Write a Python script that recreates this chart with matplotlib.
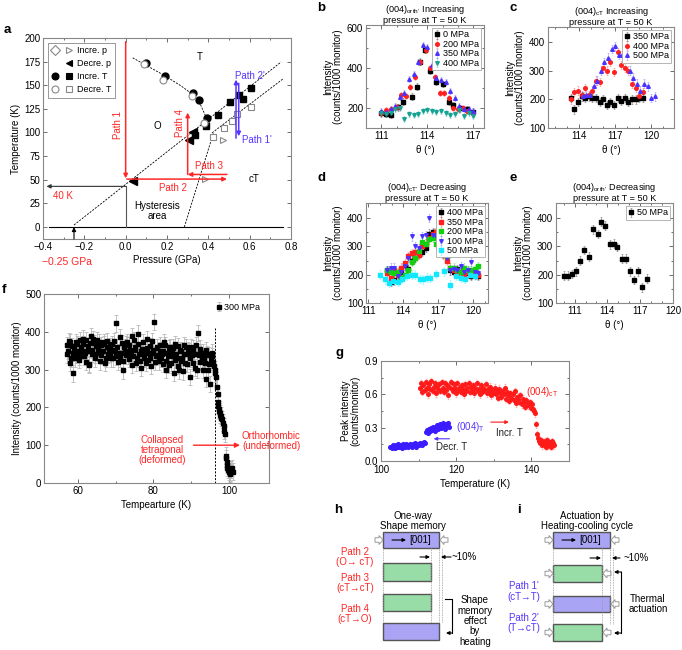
import numpy as np
import matplotlib
matplotlib.use("Agg")
import matplotlib.pyplot as plt
from matplotlib.lines import Line2D
from matplotlib.legend_handler import HandlerTuple
from matplotlib.patches import Rectangle, FancyArrow
from matplotlib.colors import to_rgba

plt.rcParams['font.family'] = ['Liberation Sans', 'DejaVu Sans']
plt.rcParams['mathtext.fontset'] = 'custom'
plt.rcParams['mathtext.rm'] = 'Liberation Sans'
plt.rcParams['mathtext.it'] = 'Liberation Sans:italic'
plt.rcParams['axes.linewidth'] = 0.8

RED = '#ff2626'
BLUE = '#5535ff'

# ---------------- panel a: phase diagram (p in GPa, T in K) ----------------
incp_p = [0.384, 0.473]
incp_T = [50.5, 92.0]
decp_p = [0.034, 0.305, 0.324]
decp_T = [49.0, 92.0, 100.5]
incT_circ_p = [0.097, 0.189, 0.324, 0.356, 0.392]
incT_circ_T = [173.5, 160.0, 142.0, 134.0, 115.0]
incT_sq_p = [0.335, 0.387, 0.448, 0.505, 0.550, 0.566, 0.605]
incT_sq_T = [97.5, 107.0, 118.0, 132.0, 140.0, 135.0, 147.5]
decT_circ_p = [0.090, 0.182, 0.319, 0.379]
decT_circ_T = [172.0, 156.0, 139.0, 110.0]
decT_sq_p = [0.424, 0.476, 0.516, 0.537, 0.605]
decT_sq_T = [95.0, 105.0, 112.0, 120.0, 127.0]
# phase boundaries
ot_p = [0.034, 0.10, 0.19, 0.27, 0.32, 0.355, 0.375, 0.39, 0.408]
ot_T = [179.0, 171.0, 160.0, 149.0, 141.0, 133.0, 123.0, 116.0, 109.5]
ocT_p = [-0.25, 0.752]
ocT_T = [2.1, 174.6]
tcT_p = [0.418, 0.763]
tcT_T = [99.6, 157.0]
hyst_p = [0.284, 0.424]
hyst_T = [0.0, 99.0]

# ---------------- panels b-e: theta scans at 50 K ----------------
b_th0 = [111.0, 111.3, 111.65, 112.1, 112.4, 113.0, 113.3, 113.5, 113.85, 114.2, 114.6, 115.0, 115.4, 115.7, 116.15, 116.6, 117.0]
b_I0 = [173, 170, 165, 203, 232, 257, 307, 432, 490, 387, 332, 320, 232, 215, 198, 193, 182]
b_th200 = [111.0, 111.3, 111.6, 112.0, 112.3, 112.6, 112.9, 113.2, 113.5, 113.9, 114.2, 114.5, 114.8, 115.1, 115.4, 115.7, 116.0, 116.3, 116.6, 117.0]
b_I200 = [175, 190, 195, 205, 265, 260, 305, 355, 430, 490, 400, 355, 275, 275, 250, 200, 195, 200, 185, 175]
b_th350 = [111.0, 111.3, 111.6, 111.9, 112.2, 112.5, 112.8, 113.1, 113.4, 113.7, 114.0, 114.3, 114.6, 114.9, 115.2, 115.5, 115.8, 116.1, 116.4, 116.7, 117.0]
b_I350 = [185, 180, 195, 210, 255, 275, 345, 370, 430, 515, 505, 415, 350, 340, 330, 285, 250, 210, 195, 195, 185]
b_th400 = [111.0, 111.3, 111.6, 111.9, 112.2, 112.5, 112.8, 113.1, 113.4, 113.7, 114.0, 114.3, 114.6, 114.9, 115.2, 115.5, 115.8, 116.1, 116.4, 116.7, 117.0]
b_I400 = [175, 170, 175, 195, 200, 145, 170, 165, 170, 185, 190, 185, 180, 185, 175, 165, 170, 190, 160, 175, 160]
b_err = 17

c_th350 = [113.3, 113.6, 113.9, 114.2, 114.5, 114.8, 115.1, 115.4, 115.7, 116.0, 116.3, 116.6, 116.9, 117.2, 117.5, 117.8, 118.1, 118.4, 118.7, 119.0, 119.3]
c_I350 = [205, 165, 190, 210, 205, 210, 205, 205, 190, 200, 180, 190, 180, 205, 195, 205, 190, 200, 200, 205, 205]
c_th400 = [113.3, 113.6, 113.9, 114.2, 114.5, 114.8, 115.1, 115.4, 115.7, 116.0, 116.3, 116.6, 116.9, 117.2, 117.5, 117.8, 118.1, 118.4, 118.7, 119.0, 119.3]
c_I400 = [200, 225, 230, 215, 240, 215, 230, 265, 260, 310, 300, 330, 295, 365, 320, 310, 300, 255, 240, 210, 225]
c_th500 = [114.3, 114.6, 114.9, 115.2, 115.5, 115.8, 116.1, 116.4, 116.7, 117.0, 117.3, 117.6, 117.9, 118.2, 118.5, 118.8, 119.1, 119.4, 119.7, 120.0, 120.3]
c_I500 = [210, 215, 215, 245, 265, 300, 330, 345, 375, 385, 355, 355, 345, 300, 275, 255, 230, 255, 245, 205, 210]
c_err = 15

d_th = [112.6, 112.9, 113.2, 113.5, 113.8, 114.1, 114.4, 114.7, 115.0, 115.3, 115.6, 115.9, 116.2, 116.5, 116.8, 117.1, 117.4, 117.7, 118.0, 118.3, 118.6, 118.9, 119.2, 119.5, 119.8, 120.1, 120.4]
d_I400 = [215, 175, 180, 205, 210, 235, 220, 250, 260, 275, 280, 295, 345, 350, 350, 330, 280, 265, 215, 210, 220, 210, 210, 205, 195, 200, 195]
d_I350 = [205, 190, 215, 200, 225, 240, 265, 275, 280, 270, 300, 310, 330, 345, 350, 345, 270, 250, 225, 215, 205, 210, 200, 210, 200, 205, 200]
d_I200 = [215, 210, 205, 210, 190, 200, 215, 245, 260, 285, 315, 310, 325, 330, 310, 320, 275, 265, 225, 225, 215, 210, 225, 215, 215, 220, 230]
d_I100 = [215, 225, 225, 195, 210, 230, 260, 335, 300, 295, 335, 340, 400, 340, 335, 330, 275, 260, 215, 220, 215, 230, 210, 215, 245, 210, 205]
d_th50 = [112.0, 112.4, 112.8, 113.1, 113.5, 113.9, 114.3, 114.7, 115.0, 115.4, 115.7, 116.0, 116.3, 116.8, 117.5, 118.0, 118.5, 118.9, 119.3, 119.7, 120.1]
d_I50 = [200, 183, 170, 178, 175, 185, 195, 200, 200, 185, 183, 190, 188, 202, 212, 165, 195, 190, 185, 200, 195]
d_err = 15

e_th = [110.0, 110.4, 110.8, 111.1, 111.5, 111.9, 112.3, 112.7, 113.1, 113.4, 113.8, 114.2, 114.6, 114.9, 115.3, 115.7, 116.1, 116.4, 116.8, 117.2, 117.6]
e_I = [197, 197, 202, 212, 250, 287, 264, 360, 343, 387, 373, 307, 310, 297, 257, 257, 212, 182, 212, 155, 186]
e_err = 15

# ---------------- panel f: intensity vs T at 300 MPa (two interleaved scans) ----------------
f_T0, f_T0b, f_dT = 57.0, 57.2, 0.4
f_I_low = [365, 350, 372, 330, 290, 355, 340, 368, 335, 378,
           350, 382, 345, 320, 362, 315, 388, 352, 370, 340,
           378, 358, 322, 365, 348, 372, 330, 360, 355, 342,
           368, 330, 350, 422, 320, 385, 345, 298, 360, 338,
           372, 328, 352, 388, 335, 360, 318, 395, 340, 305,
           355, 330, 345, 380, 325, 362, 310, 345, 426, 335,
           358, 322, 350, 340, 315, 365, 300, 335, 355, 318,
           345, 292, 368, 330, 310, 352, 322, 295, 340, 360,
           315, 348, 280, 338, 355, 305, 340, 397, 320, 345,
           300, 330, 275, 340, 315, 262, 335, 320]
f_I_low2 = [340, 375, 318, 362, 345, 330, 372, 350, 325, 360,
            368, 335, 378, 350, 312, 370, 342, 380, 330, 362,
            345, 372, 338, 350, 368, 318, 375, 340, 362, 330,
            352, 375, 335, 360, 345, 330, 370, 322, 350, 368,
            338, 365, 345, 312, 378, 352, 330, 368, 322, 350,
            372, 340, 318, 358, 345, 330, 375, 352, 320, 360,
            338, 365, 330, 348, 372, 322, 345, 312, 360, 335,
            358, 325, 340, 362, 298, 350, 332, 365, 318, 342,
            352, 330, 360, 318, 342, 365, 300, 338, 355, 325,
            345, 318, 352, 300, 338, 325, 345, 310]
f_T_drop = [96.2, 96.4, 96.6, 96.8, 97.0, 97.1, 97.2, 97.3, 97.4, 97.5, 97.6, 97.8, 98.0, 98.2, 98.4,
            98.6, 98.8, 99.0, 99.2, 99.3, 99.4, 99.5, 99.6, 99.8, 100.0, 100.2, 100.4, 100.6, 100.8, 101.0]
f_I_drop = [300, 290, 280, 255, 235, 215, 205, 195, 190, 185, 180, 178, 172, 168, 160,
            150, 138, 130, 72, 65, 55, 48, 40, 35, 30, 25, 28, 35, 40, 30]
f_err = 22
f_Tc = 96.3

# ---------------- panel g: peak intensity vs T ----------------
g_cT_T0, g_cT_dT = 110.4, 0.3
g_cT = [0.66, 0.70, 0.62, 0.68, 0.64, 0.71, 0.66, 0.60, 0.69, 0.65,
        0.72, 0.63, 0.67, 0.70, 0.61, 0.68, 0.65, 0.69, 0.63, 0.71,
        0.66, 0.62, 0.70, 0.64, 0.68, 0.59, 0.67, 0.71, 0.65, 0.63,
        0.69, 0.66, 0.61, 0.70, 0.64, 0.67, 0.62, 0.68, 0.65, 0.60,
        0.69, 0.63, 0.66, 0.70, 0.62, 0.67, 0.64, 0.68, 0.61, 0.66,
        0.70, 0.63, 0.65, 0.60, 0.68, 0.62, 0.66, 0.64, 0.69, 0.61,
        0.65, 0.62, 0.67, 0.59, 0.64, 0.61, 0.66, 0.60, 0.63, 0.57,
        0.65, 0.61, 0.58, 0.63, 0.60, 0.66, 0.56, 0.62, 0.59, 0.54,
        0.61, 0.57, 0.60, 0.55, 0.63, 0.52, 0.58, 0.56, 0.53, 0.59,
        0.51, 0.56, 0.54, 0.49, 0.55, 0.52, 0.50, 0.53, 0.48, 0.51,
        0.47, 0.45]
g_tail_T0, g_tail_dT = 141.0, 0.25
g_tail = [0.43, 0.33, 0.24, 0.21, 0.18, 0.16, 0.19, 0.14, 0.17, 0.15, 0.18,
          0.13, 0.16, 0.19, 0.14, 0.17, 0.15, 0.13, 0.18, 0.16, 0.14]
g_T_lo_T0, g_T_lo_dT = 102.5, 0.3
g_T_lo = [0.13, 0.12, 0.14, 0.13, 0.12, 0.14, 0.13, 0.15, 0.13, 0.14, 0.12, 0.15, 0.14, 0.13, 0.15, 0.14,
          0.13, 0.15, 0.14, 0.13, 0.15, 0.14, 0.16, 0.13, 0.15, 0.14, 0.16, 0.15, 0.14, 0.16, 0.17, 0.16]
g_T_hi_T0, g_T_hi_dT = 112.0, 0.25
g_T_hi = [0.26, 0.28, 0.25, 0.29, 0.27, 0.30, 0.28, 0.31, 0.29, 0.27, 0.31, 0.30, 0.32,
          0.29, 0.31, 0.33, 0.30, 0.32, 0.34, 0.31, 0.29, 0.33, 0.32, 0.34, 0.31]
g_err = 0.03

# ---------------- panels h, i: schematic boxes (left, top, right, bottom in px) ----------------
h_boxes = [(383, 532, 439, 548, 'p'), (383, 563, 431, 581, 'g'),
           (383, 594, 431, 611, 'g'), (383, 623, 439, 640, 'p')]
i_boxes = [(553, 532, 610, 548, 'p'), (553, 565, 602, 582, 'g'),
           (553, 596, 610, 612, 'p'), (553, 624, 602, 641, 'g')]
h_labels = ['Path 2', '(O→ cT)', 'Path 3', '(cT→cT)', 'Path 4', '(cT→O)']
h_label_y = [552, 562, 578, 588, 609, 619]
i_labels = ["Path 1'", '(cT→T)', "Path 2'", '(T→cT)']
i_label_y = [586, 597, 618, 628]

W, H = 682, 650
fig = plt.figure(figsize=(W / 100, H / 100), dpi=100)


def box(l, t, r, b):
    return fig.add_axes([l / W, 1 - b / H, (r - l) / W, (b - t) / H])


def style(ax):
    ax.tick_params(which='both', direction='in', top=True, right=True, labelsize=7,
                   width=0.6, color='#555555', pad=2)
    ax.tick_params(which='major', length=3)
    ax.tick_params(which='minor', length=1.6)
    for s in ax.spines.values():
        s.set_color('#888888')


def scan(ax, x, y, err, marker, color, label=None):
    ax.errorbar(x, y, yerr=err, fmt=marker, ms=2.6, color=color, mec=color,
                ecolor=to_rgba(color, 0.3), elinewidth=0.7, capsize=1.0, capthick=0.6,
                label=label)


# ---------------- panel a ----------------
ax = box(43, 38, 291, 239)
style(ax)
ax.set_xlim(-0.4, 0.8)
ax.set_ylim(-12.7, 200)
ax.set_xticks([-0.4, -0.2, 0.0, 0.2, 0.4, 0.6, 0.8])
ax.set_xticks(np.arange(-0.4, 0.81, 0.1), minor=True)
ax.set_yticks(np.arange(0, 201, 25))
ax.set_xlabel('Pressure (GPa)', fontsize=7, labelpad=2)
ax.set_ylabel('Temperature (K)', fontsize=7, labelpad=2)
dash = dict(color='k', lw=0.6, dashes=(2.5, 1.5))
ax.plot(ot_p, ot_T, **dash)
ax.plot(ocT_p, ocT_T, **dash)
ax.plot(tcT_p, tcT_T, **dash)
ax.plot(hyst_p, hyst_T, **dash)
ax.plot([-0.37, 0.76], [0, 0], color='k', lw=0.8)
ax.plot([0, 0], [0, 43], color='#555555', lw=0.8)
arr = dict(arrowstyle='-|>', mutation_scale=6, shrinkA=0, shrinkB=0)
ax.annotate('', xy=(-0.383, 43), xytext=(0, 43), arrowprops=dict(color='#333333', lw=0.8, **arr))
ax.annotate('', xy=(-0.25, 0), xytext=(-0.25, -12.7), arrowprops=dict(color='k', lw=0.8, **arr))
ax.annotate('', xy=(0.0, 51.5), xytext=(0.0, 196), arrowprops=dict(color=RED, lw=1.1, **arr))
ax.annotate('', xy=(0.49, 50.7), xytext=(0.005, 50.7), arrowprops=dict(color=RED, lw=1.1, **arr))
ax.annotate('', xy=(0.30, 55.6), xytext=(0.49, 55.6), arrowprops=dict(color=RED, lw=1.1, **arr))
ax.annotate('', xy=(0.30, 121), xytext=(0.30, 55.6), arrowprops=dict(color=RED, lw=1.1, **arr))
ax.annotate('', xy=(0.534, 156), xytext=(0.534, 94), arrowprops=dict(color=BLUE, lw=1.1, **arr))
ax.annotate('', xy=(0.547, 96), xytext=(0.547, 152), arrowprops=dict(color=BLUE, lw=1.1, **arr))
ax.plot(incT_circ_p, incT_circ_T, 'o', ms=5, color='k')
ax.plot(incT_sq_p, incT_sq_T, 's', ms=5, color='k')
ax.plot(decT_circ_p, decT_circ_T, 'o', ms=5, mfc='white', mec='#888888', mew=0.8)
ax.plot(decT_sq_p, decT_sq_T, 's', ms=5, mfc='white', mec='#888888', mew=0.8)
ax.plot(incp_p, incp_T, '>', ms=5, mfc='white', mec='#888888', mew=0.8)
ax.plot(decp_p, decp_T, '<', ms=6, color='k')
ax.text(-0.035, 107.7, 'Path 1', color=RED, fontsize=7, rotation=90, ha='center', va='center')
ax.text(0.23, 41.5, 'Path 2', color=RED, fontsize=7, ha='center', va='center')
ax.text(0.405, 65, 'Path 3', color=RED, fontsize=7, ha='center', va='center')
ax.text(0.263, 110, 'Path 4', color=RED, fontsize=7, rotation=90, ha='center', va='center')
ax.text(0.60, 160, "Path 2'", color=BLUE, fontsize=7, ha='center', va='center')
ax.text(0.565, 92, "Path 1'", color=BLUE, fontsize=7, ha='left', va='center')
ax.text(-0.35, 33, '40 K', color=RED, fontsize=7, ha='left', va='center')
ax.text(0.356, 180, 'T', fontsize=7, ha='center', va='center')
ax.text(0.153, 107, 'O', fontsize=7, ha='center', va='center')
ax.text(0.623, 51, 'cT', fontsize=7, ha='center', va='center')
ax.text(0.153, 17, 'Hysteresis\narea', fontsize=7, ha='center', va='center', linespacing=1.0)
mk = dict(ls='', ms=5, mew=0.8)
h1 = (Line2D([], [], marker='D', mfc='white', mec='#888888', **mk),
      Line2D([], [], marker='>', mfc='white', mec='#888888', **mk))
h2 = (Line2D([], [], marker='D', mfc='none', mec='none', **mk),
      Line2D([], [], marker='<', color='k', **mk))
h3 = (Line2D([], [], marker='o', color='k', **mk),
      Line2D([], [], marker='s', color='k', **mk))
h4 = (Line2D([], [], marker='o', mfc='white', mec='#888888', **mk),
      Line2D([], [], marker='s', mfc='white', mec='#888888', **mk))
leg = ax.legend([h1, h2, h3, h4], ['Incre. p', 'Decre. p', 'Incre. T', 'Decre. T'],
                handler_map={tuple: HandlerTuple(ndivide=None, pad=0.6)}, loc='upper left',
                fontsize=6.5, handlelength=2.4, handletextpad=0.5, labelspacing=0.45,
                borderpad=0.4, fancybox=False, edgecolor='#888888', framealpha=1)
leg.get_frame().set_linewidth(0.6)


def theta_panel(ax, xlim, ylim, xt, yt, title):
    style(ax)
    ax.set_xlim(*xlim)
    ax.set_ylim(*ylim)
    ax.set_xticks(xt)
    ax.set_yticks(yt)
    ax.set_xlabel('θ (°)', fontsize=7, labelpad=3)
    ax.set_ylabel('Intensity\n(counts/1000 monitor)', fontsize=7, labelpad=3, linespacing=1.0)
    ax.set_title(title, fontsize=6.6, pad=1, linespacing=0.95)


def small_legend(ax):
    lg = ax.legend(loc='upper right', fontsize=6.5, handlelength=0.6, handletextpad=0.3,
                   labelspacing=0.05, borderpad=0.25, borderaxespad=0.35, fancybox=False,
                   edgecolor='#aaaaaa', framealpha=1)
    lg.get_frame().set_linewidth(0.6)


# ---------------- panel b ----------------
ax = box(366, 25, 484, 128)
theta_panel(ax, (110.0, 117.7), (100, 615), [111, 114, 117], [200, 400, 600],
            "(004)$_{\\mathrm{orth\u2019}}$ Increasing\npressure at T = 50 K")
ax.set_xticks(np.arange(110, 118, 1), minor=True)
ax.set_yticks([100, 300, 500], minor=True)
scan(ax, b_th0, b_I0, b_err, 's', 'k', '0 MPa')
scan(ax, b_th200, b_I200, b_err, 'o', '#ff2020', '200 MPa')
scan(ax, b_th350, b_I350, b_err, '^', '#4a33ff', '350 MPa')
scan(ax, b_th400, b_I400, b_err, 'v', '#16a394', '400 MPa')
small_legend(ax)

# ---------------- panel c ----------------
ax = box(548, 27, 674, 128)
theta_panel(ax, (111.4, 121.9), (100, 452), [114, 117, 120], [100, 200, 300, 400],
            "(004)$_{\\mathrm{cT}}$ Increasing\npressure at T = 50 K")
ax.set_xticks(np.arange(112, 122, 1), minor=True)
scan(ax, c_th350, c_I350, c_err, 's', 'k', '350 MPa')
scan(ax, c_th400, c_I400, c_err, 'o', '#ff2020', '400 MPa')
scan(ax, c_th500, c_I500, c_err, '^', '#4a33ff', '500 MPa')
small_legend(ax)

# ---------------- panel d ----------------
ax = box(366, 203, 488, 303)
theta_panel(ax, (110.8, 121.25), (100, 453), [111, 114, 117, 120], [100, 200, 300, 400],
            "(004)$_{\\mathrm{cT\u2019}}$ Decreasing\npressure at T = 50 K")
ax.set_xticks(np.arange(111, 122, 1), minor=True)
ax.set_yticks([150, 250, 350], minor=True)
scan(ax, d_th, d_I400, d_err, 's', 'k', '400 MPa')
scan(ax, d_th, d_I350, d_err, 's', '#ff2020', '350 MPa')
scan(ax, d_th, d_I200, d_err, 's', '#10d010', '200 MPa')
scan(ax, d_th, d_I100, d_err, 'v', '#4a33ff', '100 MPa')
scan(ax, d_th50, d_I50, d_err, 's', '#10e8ff', '50 MPa')
small_legend(ax)

# ---------------- panel e ----------------
ax = box(556, 203, 673, 303)
theta_panel(ax, (109.3, 120.0), (100, 453), [111, 114, 117, 120], [100, 200, 300, 400],
            "(004)$_{\\mathrm{orth\u2019}}$ Decreasing\npressure at T = 50 K")
ax.set_xticks(np.arange(110, 121, 1), minor=True)
ax.set_yticks([150, 250, 350], minor=True)
scan(ax, e_th, e_I, e_err, 's', 'k', '50 MPa')
small_legend(ax)

# ---------------- panel f ----------------
ax = box(44, 294, 269, 483)
style(ax)
ax.set_xlim(51, 110.6)
ax.set_ylim(0, 500)
ax.set_xticks([60, 80, 100])
ax.set_xticks([70, 90], minor=True)
ax.set_yticks(np.arange(0, 501, 100))
ax.set_xlabel('Tempearture (K)', fontsize=7, labelpad=3)
ax.set_ylabel('Intensity (counts/1000 monitor)', fontsize=7, labelpad=2)
f_T = np.concatenate([f_T0 + f_dT * np.arange(len(f_I_low)),
                      f_T0b + f_dT * np.arange(len(f_I_low2)), f_T_drop])
f_I = np.concatenate([f_I_low, f_I_low2, f_I_drop])
ax.errorbar(f_T, f_I, yerr=f_err, fmt='s', ms=3.4, color='k', ecolor='#b8b8b8',
            elinewidth=0.6, capsize=1.2, capthick=0.6, label='300 MPa')
ax.plot([f_Tc, f_Tc], [0, 410], color='k', lw=0.7, dashes=(2, 1.5))
ax.annotate('', xy=(102.9, 100), xytext=(90.6, 100),
            arrowprops=dict(arrowstyle='-|>', color=RED, lw=1.0, mutation_scale=7, shrinkA=0, shrinkB=0))
ax.text(82.4, 87, 'Collapsed\ntetragonal\n(deformed)', color=RED, fontsize=7, ha='center',
        va='center', linespacing=1.0)
ax.text(111.2, 111, 'Orthorhombic\n(undeformed)', color=RED, fontsize=7, ha='center',
        va='center', linespacing=1.0)
lg = ax.legend(loc='upper right', fontsize=6.5, frameon=False, handlelength=0.6,
               handletextpad=0.3, borderaxespad=0.6)

# ---------------- panel g ----------------
ax = box(381, 361, 569, 461)
style(ax)
ax.set_xlim(100, 150)
ax.set_ylim(0, 0.9)
ax.set_xticks([100, 120, 140])
ax.set_xticks([110, 130, 150], minor=True)
ax.set_yticks([0.0, 0.3, 0.6, 0.9])
ax.set_yticks([0.15, 0.45, 0.75], minor=True)
ax.tick_params(axis='x', pad=3)
ax.yaxis.set_major_formatter(matplotlib.ticker.FormatStrFormatter('%.1f'))
ax.set_xlabel('Temperature (K)', fontsize=7, labelpad=3)
ax.set_ylabel('Peak intensity\n(counts/monitor)', fontsize=7, labelpad=3, linespacing=1.0)
g_T_cT = np.concatenate([g_cT_T0 + g_cT_dT * np.arange(len(g_cT)),
                         g_tail_T0 + g_tail_dT * np.arange(len(g_tail))])
g_I_cT = np.concatenate([g_cT, g_tail])
g_T_T = np.concatenate([g_T_lo_T0 + g_T_lo_dT * np.arange(len(g_T_lo)),
                        g_T_hi_T0 + g_T_hi_dT * np.arange(len(g_T_hi))])
g_I_T = np.concatenate([g_T_lo, g_T_hi])
ax.errorbar(g_T_cT, g_I_cT, yerr=g_err, fmt='o', ms=2.6, color='#ff1a1a',
            ecolor=to_rgba('#ff1a1a', 0.25), elinewidth=0.7, capsize=0.8)
ax.errorbar(g_T_T, g_I_T, yerr=g_err * 0.6, fmt='o', ms=2.6, color='#3a1cff',
            ecolor=to_rgba('#3a1cff', 0.25), elinewidth=0.7, capsize=0.8)
ax.text(138.6, 0.625, '(004)$_{\\mathrm{cT}}$', color='#ff1a1a', fontsize=7, ha='left', va='center')
ax.text(120.0, 0.31, '(004)$_{\\mathrm{T}}$', color=BLUE, fontsize=7, ha='left', va='center')
ax.annotate('', xy=(134.0, 0.35), xytext=(129.2, 0.35),
            arrowprops=dict(arrowstyle='-|>', color='#ff1a1a', lw=0.8, mutation_scale=5, shrinkA=0, shrinkB=0))
ax.text(130.5, 0.255, 'Incr. T', fontsize=7, ha='left', va='center', color='#222222')
ax.annotate('', xy=(114.0, 0.2), xytext=(118.2, 0.2),
            arrowprops=dict(arrowstyle='-|>', color=BLUE, lw=0.8, mutation_scale=5, shrinkA=0, shrinkB=0))
ax.text(114.6, 0.125, 'Decr. T', fontsize=7, ha='left', va='center', color='#222222')

# ---------------- overlay: panel letters, schematics h and i ----------------
sk = fig.add_axes([0, 0, 1, 1])
sk.set_xlim(0, W)
sk.set_ylim(H, 0)
sk.axis('off')
sk.patch.set_alpha(0)
for lab, x, y in [('a', 4, 30), ('b', 317, 8), ('c', 510, 8), ('d', 317, 178), ('e', 510, 178),
                  ('f', 2, 290), ('g', 336, 353), ('h', 334, 510), ('i', 517, 510)]:
    sk.text(x, y, lab, fontsize=9.5, fontweight='bold', ha='left', va='center')
sk.text(67, 262, '−0.25 GPa', color=RED, fontsize=7.5, ha='center', va='center')

FILL = {'p': '#a9a4f3', 'g': '#98dca8'}


def hollow(x, y, d):
    sk.add_patch(FancyArrow(x, y, 8 * d, 0, width=4.5, head_width=9, head_length=4,
                            length_includes_head=True, fc='white', ec='#9a9a9a', lw=0.7))


def schematic(boxes, guides, side_arrows):
    for n, (l, t, r, b, k) in enumerate(boxes):
        sk.add_patch(Rectangle((l, t), r - l, b - t, fc=FILL[k], ec='#555555', lw=1.0))
        if side_arrows or n == 0:
            hollow(l - 8, (t + b) / 2, 1)
            hollow(r + 9, (t + b) / 2, -1)
    top = boxes[0][3]
    bot = boxes[-1][1]
    for x in guides:
        sk.plot([x, x], [top, bot], color='#999999', lw=0.6, ls=(0, (1, 1)))


schematic(h_boxes, [383, 431, 439, 442], False)
schematic(i_boxes, [553, 602, 610, 613], True)

small = dict(arrowstyle='-|>', color='k', lw=0.8, mutation_scale=5, shrinkA=0, shrinkB=0)
# [001] arrows inside top boxes
sk.annotate('', xy=(406, 540), xytext=(392, 540), arrowprops=small)
sk.text(409, 540, '[001]', fontsize=7, ha='left', va='center')
sk.annotate('', xy=(576, 540), xytext=(562, 540), arrowprops=small)
sk.text(579, 540, '[001]', fontsize=7, ha='left', va='center')
# ~10% markers
sk.annotate('', xy=(430, 557), xytext=(420, 557), arrowprops=small)
sk.annotate('', xy=(441, 557), xytext=(451, 557), arrowprops=small)
sk.text(451, 557, '~10%', fontsize=7, ha='left', va='center')
sk.annotate('', xy=(601, 558), xytext=(590, 558), arrowprops=small)
sk.annotate('', xy=(612, 558), xytext=(620, 558), arrowprops=small)
sk.text(623, 558, '~10%', fontsize=7, ha='left', va='center')

sk.text(413, 521, 'One-way\nShape memory', fontsize=7, ha='center', va='center', linespacing=1.0)
sk.text(587, 521, 'Actuation by\nHeating-cooling cycle', fontsize=7, ha='center', va='center',
        linespacing=1.0)
for s, y in zip(h_labels, h_label_y):
    sk.text(355, y, s, color=RED, fontsize=7, ha='center', va='center')
for s, y in zip(i_labels, i_label_y):
    sk.text(524, y, s, color=BLUE, fontsize=7, ha='center', va='center')

# brackets
sk.plot([445, 452, 452], [599, 599, 633], color='k', lw=0.8)
sk.annotate('', xy=(446, 633), xytext=(452.4, 633), arrowprops=small)
sk.text(475, 621, 'Shape\nmemory\neffect\nby\nheating', fontsize=7, ha='center', va='center',
        linespacing=1.05)
sk.plot([621, 621], [572, 633], color='k', lw=0.8)
sk.annotate('', xy=(614, 572), xytext=(621.4, 572), arrowprops=small)
sk.annotate('', xy=(614, 633), xytext=(621.4, 633), arrowprops=small)
sk.text(648, 604, 'Thermal\nactuation', fontsize=7, ha='center', va='center', linespacing=1.05)

fig.savefig('out.png', dpi=100)
